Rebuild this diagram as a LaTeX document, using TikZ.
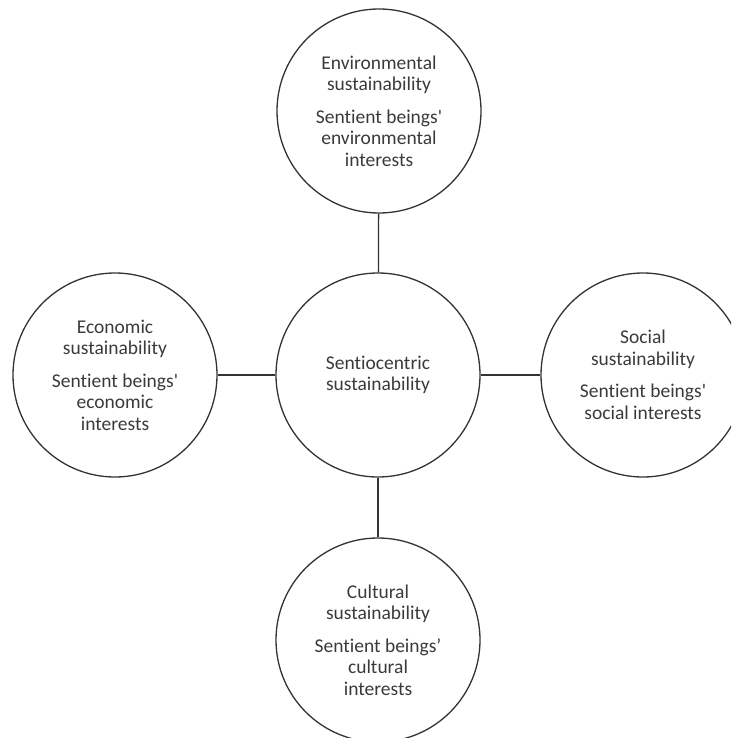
\documentclass[tikz,border=0pt]{standalone}
\usepackage{fontspec}
\setmainfont[Ligatures=NoCommon]{Carlito}
\definecolor{ink}{HTML}{333333}
\definecolor{txt}{HTML}{3A3A3A}
\begin{document}
\begin{tikzpicture}[x=1pt,y=-1pt,
  bubble/.style={circle,draw=ink,line width=1.3pt,minimum size=204pt,inner sep=0pt,
    align=center,text=txt,font=\fontsize{19.5}{21.5}\selectfont},
  link/.style={draw=ink,line width=1.3pt}]
\useasboundingbox (0,0) rectangle (731,738);
\clip (0,0) rectangle (731,738);
\node[bubble] (c) at (378,375) {Sentiocentric\\sustainability};
\node[bubble] (t) at (379,111) {Environmental\\sustainability\\[11pt]Sentient beings\textquotesingle\\environmental\\interests};
\node[bubble] (l) at (115,375) {Economic\\sustainability\\[11pt]Sentient beings\textquotesingle\\economic\\interests};
\node[bubble] (r) at (643,375) {Social\\sustainability\\[11pt]Sentient beings\textquotesingle\\social interests};
\node[bubble] (b) at (378,640) {Cultural\\sustainability\\[11pt]Sentient beings’\\cultural\\interests};
\draw[link] (c) -- (t);
\draw[link] (c) -- (l);
\draw[link] (c) -- (r);
\draw[link] (c) -- (b);
\end{tikzpicture}
\end{document}
